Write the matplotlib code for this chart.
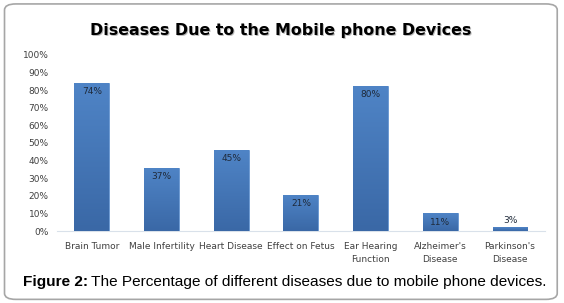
import numpy as np
import matplotlib
matplotlib.use("Agg")
import matplotlib.pyplot as plt
from matplotlib.patches import FancyBboxPatch

categories = ["Brain Tumor", "Male Infertility", "Heart Disease", "Effect on Fetus",
              "Ear Hearing\nFunction", "Alzheimer's\nDisease", "Parkinson's\nDisease"]
bar_heights = [84, 36, 46, 20.5, 82.5, 10, 2]
bar_labels = ["74%", "37%", "45%", "21%", "80%", "11%", "3%"]
y_ticks = list(range(0, 101, 10))

fig = plt.figure(figsize=(5.64, 3.03), dpi=100)
fig.patch.set_facecolor("white")

# rounded outer frame
frame = FancyBboxPatch((0.008, 0.012), 0.98, 0.975, boxstyle="round,pad=0,rounding_size=0.02",
                       transform=fig.transFigure, facecolor="white", edgecolor="#a6a6a6",
                       linewidth=1.2, zorder=-10)
fig.patches.append(frame)

ax = fig.add_axes([0.101, 0.2376, 0.865, 0.581])
ax.set_facecolor("none")
x = np.arange(len(categories))
bars = ax.bar(x, bar_heights, width=0.5, color="#4679b9", edgecolor="#5b8fd0", linewidth=0.5, zorder=2)

# vertical gradient inside each bar
grad = np.linspace(0, 1, 100).reshape(-1, 1)
cmap = matplotlib.colors.LinearSegmentedColormap.from_list("g", ["#3a68a6", "#4f84c6"])
for b in bars:
    im = ax.imshow(grad, cmap=cmap, aspect="auto", origin="lower", zorder=3,
                   extent=[b.get_x(), b.get_x() + b.get_width(), 0, b.get_height()])
    im.set_clip_path(b)

for i, b in enumerate(bars):
    h = b.get_height()
    if h > 8:
        ax.text(b.get_x() + b.get_width() / 2, h - 5, bar_labels[i], ha="center", va="center",
                fontsize=6.5, color="#1f2a3a", zorder=4)
    else:
        ax.text(b.get_x() + b.get_width() / 2, h + 4, bar_labels[i], ha="center", va="center",
                fontsize=6.5, color="#1f2a3a", zorder=4)

ax.set_xlim(-0.5, len(categories) - 0.5)
ax.set_ylim(0, 100)
ax.set_yticks(y_ticks)
ax.set_yticklabels([f"{t}%" for t in y_ticks], fontsize=6.5, color="#404040")
ax.set_xticks(x)
ax.set_xticklabels(categories, fontsize=6.5, color="#404040", linespacing=1.5)
ax.tick_params(length=0, pad=6)
ax.tick_params(axis="x", pad=8)
for s in ["top", "right", "left"]:
    ax.spines[s].set_visible(False)
ax.spines["bottom"].set_color("#d9e1ea")
ax.spines["bottom"].set_linewidth(0.8)

# title with light shadow
title = "Diseases Due to the Mobile phone Devices"
fig.text(0.5, 0.896, title, ha="center", va="center",
         fontsize=11.4, fontweight="bold", color="#bbbbbb")
fig.text(0.498, 0.900, title, ha="center", va="center",
         fontsize=11.4, fontweight="bold", color="black")

# caption
t1 = fig.text(0.04, 0.07, "Figure 2:", ha="left", va="center", fontsize=11.1,
              fontweight="bold", family="Liberation Sans")
fig.canvas.draw()
bb = t1.get_window_extent()
fig.text(bb.x1 / fig.bbox.width + 0.006, 0.07,
         "The Percentage of different diseases due to mobile phone devices.",
         ha="left", va="center", fontsize=11.1, family="Liberation Sans")

fig.savefig("out.png", dpi=100)
